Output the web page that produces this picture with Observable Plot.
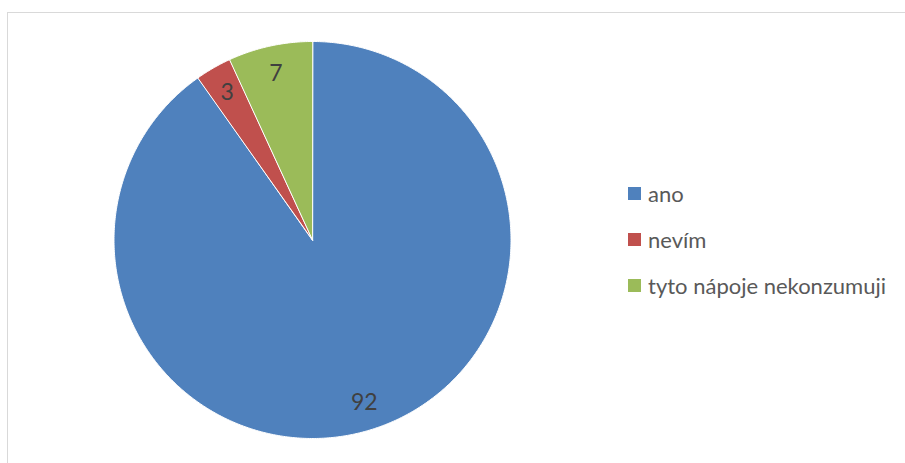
<!DOCTYPE html>
<html><head><meta charset="utf-8">
<script src="https://cdn.jsdelivr.net/npm/d3@7"></script>
<script src="https://cdn.jsdelivr.net/npm/@observablehq/plot@0.6"></script>
<style>
body{margin:0;background:#fff;}
#wrap{position:relative;width:905px;height:463px;overflow:hidden;font-family:Lato,"Open Sans",sans-serif;}
#frame{position:absolute;left:7px;top:12px;width:910px;height:470px;border-left:1.5px solid #d9d9d9;border-top:1.5px solid #d9d9d9;box-sizing:border-box;}
#legend{position:absolute;left:628px;top:170px;}
.item{display:flex;align-items:center;height:46px;font-size:22px;color:#595959;}
.sw{width:13px;height:13px;margin-right:7px;}
</style></head>
<body><div id="wrap"><div id="frame"></div></div>
<script>
const categories = ["ano", "nevím", "tyto nápoje nekonzumuji"];
const values = [92, 3, 7];
const colors = ["#4F81BD", "#C0504D", "#9BBB59"];

const W = 905, H = 463, cx = 312, cy = 239.5, R = 198.5;
const data = categories.map((c, i) => ({cat: c, value: values[i]}));
const arcs = d3.pie().sort(null).value(d => d.value)(data);

// slice outlines in unit-circle coordinates (angles clockwise from 12 o'clock)
const poly = [];
for (const a of arcs) {
  poly.push({cat: a.data.cat, x: 0, y: 0});
  const n = Math.max(2, Math.ceil((a.endAngle - a.startAngle) / (Math.PI / 360)));
  for (let k = 0; k <= n; k++) {
    const t = a.startAngle + (a.endAngle - a.startAngle) * k / n;
    poly.push({cat: a.data.cat, x: Math.sin(t), y: Math.cos(t)});
  }
}
const labels = arcs.map(a => {
  const m = (a.startAngle + a.endAngle) / 2;
  return {label: String(a.data.value), x: 0.86 * Math.sin(m), y: 0.86 * Math.cos(m)};
});

const plot = Plot.plot({
  width: W, height: H,
  margin: 0,
  style: {background: "transparent", overflow: "visible"},
  x: {domain: [-cx / R, (W - cx) / R], axis: null},
  y: {domain: [-(H - cy) / R, cy / R], axis: null},
  color: {domain: categories, range: colors},
  marks: [
    Plot.line(poly, {x: "x", y: "y", z: "cat", fill: "cat", stroke: "white", strokeWidth: 1, curve: "linear-closed"}),
    Plot.text(labels, {x: "x", y: "y", text: "label", fill: "#404040", fontSize: 23, fontFamily: "Lato, sans-serif"})
  ]
});
plot.style.position = "absolute";
plot.style.left = "0px";
plot.style.top = "0px";
const wrap = document.getElementById("wrap");
wrap.appendChild(plot);

const color = plot.scale("color");
const legend = document.createElement("div");
legend.id = "legend";
categories.forEach(c => {
  const it = document.createElement("div");
  it.className = "item";
  const sw = document.createElement("span");
  sw.className = "sw";
  sw.style.background = color.apply(c);
  const tx = document.createElement("span");
  tx.textContent = c;
  it.appendChild(sw); it.appendChild(tx);
  legend.appendChild(it);
});
wrap.appendChild(legend);
</script></body></html>
